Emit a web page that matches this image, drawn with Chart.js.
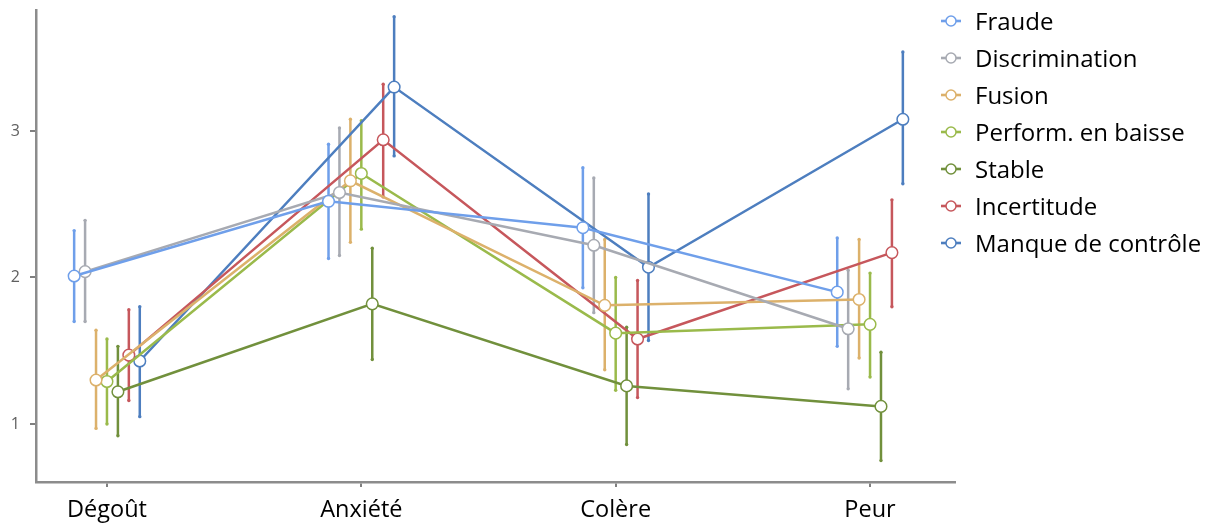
<!DOCTYPE html>
<html>
<head>
<meta charset="utf-8">
<script src="https://cdn.jsdelivr.net/npm/chart.js@4.4.1/dist/chart.umd.min.js"></script>
<style>
  html, body { margin: 0; padding: 0; background: #fff; }
  #wrap { position: relative; width: 1212px; height: 524px; }
  #legend { position: absolute; left: 940px; top: 2px; margin: 0; padding: 0; list-style: none;
            font-family: 'Open Sans', sans-serif; font-size: 24px; color: #000; }
  #legend li { height: 37px; line-height: 37px; white-space: nowrap; display: flex; align-items: center; }
  #legend svg { margin-right: 13px; }
</style>
</head>
<body>
<div id="wrap">
  <canvas id="emotion-chart" width="1212" height="524"></canvas>
  <ul id="legend"></ul>
</div>
<script>
// Categories and series
const categories = ['Dégoût', 'Anxiété', 'Colère', 'Peur'];
const seriesNames = ['Fraude', 'Discrimination', 'Fusion', 'Perform. en baisse', 'Stable', 'Incertitude', 'Manque de contrôle'];
const seriesColors = ['#6f9fea', '#a7aab2', '#dcb16b', '#9aba4b', '#71903c', '#c6575c', '#4d7ebf'];

// Means
const fraude = [2.01, 2.52, 2.34, 1.90];
const discrimination = [2.04, 2.58, 2.22, 1.65];
const fusion = [1.30, 2.66, 1.81, 1.85];
const perform = [1.29, 2.71, 1.62, 1.68];
const stable = [1.22, 1.82, 1.26, 1.12];
const incertitude = [1.47, 2.94, 1.58, 2.17];
const manque = [1.43, 3.30, 2.07, 3.08];

// Error bar lower / upper ends
const fraudeLow = [1.70, 2.13, 1.93, 1.53];
const fraudeHigh = [2.32, 2.91, 2.75, 2.27];
const discriminationLow = [1.70, 2.15, 1.76, 1.24];
const discriminationHigh = [2.39, 3.02, 2.68, 2.05];
const fusionLow = [0.97, 2.24, 1.37, 1.45];
const fusionHigh = [1.64, 3.08, 2.26, 2.26];
const performLow = [1.00, 2.33, 1.23, 1.32];
const performHigh = [1.58, 3.07, 2.00, 2.03];
const stableLow = [0.92, 1.44, 0.86, 0.75];
const stableHigh = [1.53, 2.20, 1.66, 1.49];
const incertitudeLow = [1.16, 2.55, 1.18, 1.80];
const incertitudeHigh = [1.78, 3.32, 1.98, 2.53];
const manqueLow = [1.05, 2.83, 1.57, 2.64];
const manqueHigh = [1.80, 3.78, 2.57, 3.54];

const yTicks = [1, 2, 3];

const means = [fraude, discrimination, fusion, perform, stable, incertitude, manque];
const lows = [fraudeLow, discriminationLow, fusionLow, performLow, stableLow, incertitudeLow, manqueLow];
const highs = [fraudeHigh, discriminationHigh, fusionHigh, performHigh, stableHigh, incertitudeHigh, manqueHigh];

// side-by-side shift of each series around the category (in category units)
const dodge = 0.043;
const xOf = (s, c) => c + (s - (seriesNames.length - 1) / 2) * dodge;

const datasets = [];
seriesNames.forEach((name, s) => {
    datasets.push({
        label: name,
        data: means[s].map((v, c) => ({x: xOf(s, c), y: v})),
        borderColor: seriesColors[s],
        backgroundColor: '#ffffff',
        borderWidth: 2.5,
        pointRadius: 5.8,
        pointBorderWidth: 1.5,
        pointBackgroundColor: '#ffffff',
        pointBorderColor: seriesColors[s],
        order: 0,
        isMain: true,
    });
});
seriesNames.forEach((name, s) => {
    // each bar is a two-point segment, bars separated by a gap
    const bars = [];
    categories.forEach((cat, c) => {
        bars.push({x: xOf(s, c), y: lows[s][c]});
        bars.push({x: xOf(s, c), y: highs[s][c]});
        bars.push({x: xOf(s, c), y: null});
    });
    datasets.push({
        label: name + ' (IC)',
        data: bars,
        borderColor: seriesColors[s],
        backgroundColor: seriesColors[s],
        borderWidth: 2.5,
        pointRadius: 1.7,
        pointBorderWidth: 0,
        spanGaps: false,
        order: 1,
    });
});

const ctx_emotion = document.getElementById('emotion-chart').getContext('2d');

// HTML legend (line + open circle marker)
const htmlLegend = {
    id: 'htmlLegend',
    afterUpdate(chart) {
        const ul = document.getElementById('legend');
        ul.innerHTML = '';
        chart.data.datasets.filter(d => d.isMain).forEach(d => {
            const li = document.createElement('li');
            li.innerHTML = '<svg width="22" height="14"><line x1="1" y1="7" x2="21" y2="7" stroke="' + d.borderColor +
                '" stroke-width="2.6"/><circle cx="11" cy="7" r="5" fill="#fff" stroke="' + d.borderColor +
                '" stroke-width="1.5"/></svg>';
            const span = document.createElement('span');
            span.textContent = d.label;
            li.appendChild(span);
            ul.appendChild(li);
        });
    }
};

const emotion_chart = new Chart(ctx_emotion, {
    type: 'line',
    data: { datasets: datasets },
    plugins: [htmlLegend],
    options: {
        responsive: false,
        animation: false,
        layout: { padding: { top: 10, right: 257, left: 0, bottom: 0 } },
        plugins: {
            legend: { display: false },
            tooltip: { enabled: false },
        },
        scales: {
            x: {
                type: 'linear',
                min: -0.279,
                max: 3.334,
                afterBuildTicks: scale => { scale.ticks = categories.map((c, i) => ({value: i})); },
                afterFit: scale => { scale.height = 42; scale.paddingLeft = 0; scale.paddingRight = 0; },
                ticks: {
                    autoSkip: false,
                    maxRotation: 0,
                    padding: 9,
                    color: '#000',
                    font: { family: 'Open Sans, sans-serif', size: 23.5 },
                    callback: v => categories[v],
                },
                grid: { drawOnChartArea: false, drawTicks: true, tickLength: 5, color: '#7f7f7f', lineWidth: 2 },
                border: { display: true, color: '#8c8c8c', width: 2.5 },
            },
            y: {
                min: 0.604,
                max: 3.826,
                afterBuildTicks: scale => { scale.ticks = yTicks.map(v => ({value: v})); },
                afterFit: scale => { scale.width = 36; scale.paddingTop = 0; scale.paddingBottom = 0; },
                ticks: {
                    padding: 10,
                    color: '#606060',
                    font: { family: 'Open Sans, sans-serif', size: 16 },
                },
                grid: { drawOnChartArea: false, drawTicks: true, tickLength: 6, color: '#7f7f7f', lineWidth: 2 },
                border: { display: true, color: '#8c8c8c', width: 2.5 },
            }
        }
    }
});
</script>
</body>
</html>
